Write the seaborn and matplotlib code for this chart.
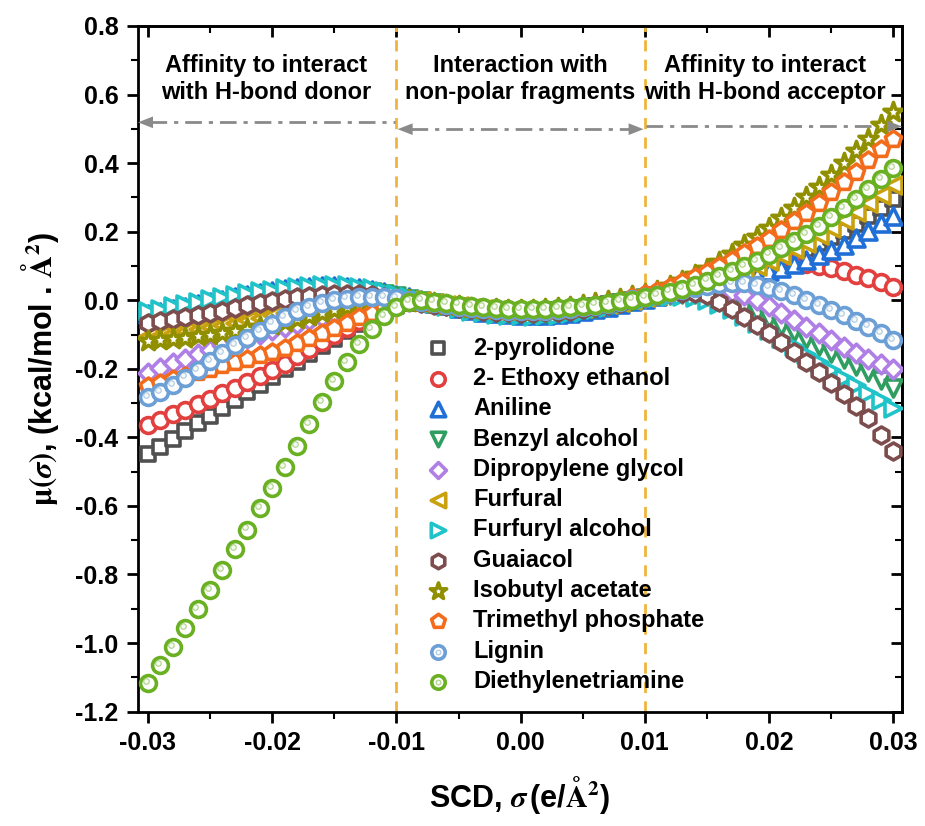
import numpy as np
import pandas as pd
import matplotlib
matplotlib.use("Agg")
import matplotlib.pyplot as plt
import seaborn as sns
from matplotlib.transforms import offset_copy
from matplotlib.ticker import MultipleLocator, FormatStrFormatter
from matplotlib.legend_handler import HandlerTuple

# sigma grid (e/A^2), 61 points from -0.030 to 0.030
sigma = np.round(np.linspace(-0.030, 0.030, 61), 3)

pyrolidone = [
    -0.449, -0.427, -0.404, -0.382, -0.359, -0.337, -0.314, -0.292, -0.269, -0.247,
    -0.224, -0.202, -0.179, -0.157, -0.134, -0.112, -0.090, -0.069, -0.049, -0.031,
    -0.018, -0.009, -0.006, -0.009, -0.013, -0.018, -0.022, -0.026, -0.029, -0.031,
    -0.032, -0.032, -0.031, -0.029, -0.026, -0.022, -0.017, -0.012, -0.006, 0.000,
    0.007, 0.014, 0.022, 0.030, 0.039, 0.048, 0.058, 0.068, 0.079, 0.091,
    0.104, 0.118, 0.133, 0.149, 0.166, 0.184, 0.203, 0.223, 0.245, 0.268, 0.296]
ethoxy_ethanol = [
    -0.364, -0.348, -0.333, -0.319, -0.302, -0.287, -0.271, -0.255, -0.239, -0.222,
    -0.204, -0.185, -0.164, -0.143, -0.121, -0.100, -0.080, -0.061, -0.044, -0.028,
    -0.015, -0.006, -0.004, -0.007, -0.012, -0.017, -0.021, -0.025, -0.028, -0.030,
    -0.031, -0.031, -0.030, -0.028, -0.025, -0.021, -0.016, -0.011, -0.005, 0.003,
    0.012, 0.020, 0.028, 0.037, 0.047, 0.057, 0.067, 0.077, 0.086, 0.094,
    0.101, 0.106, 0.108, 0.106, 0.101, 0.094, 0.085, 0.075, 0.064, 0.052, 0.039]
aniline = [
    -0.040, -0.033, -0.026, -0.019, -0.012, -0.005, 0.002, 0.009, 0.015, 0.021,
    0.027, 0.032, 0.036, 0.039, 0.041, 0.041, 0.039, 0.036, 0.031, 0.024,
    0.016, 0.008, 0.000, -0.008, -0.015, -0.022, -0.028, -0.033, -0.037, -0.040,
    -0.042, -0.043, -0.042, -0.040, -0.037, -0.032, -0.026, -0.019, -0.011, -0.003,
    0.005, 0.013, 0.020, 0.027, 0.034, 0.042, 0.050, 0.058, 0.066, 0.075,
    0.085, 0.095, 0.106, 0.118, 0.131, 0.146, 0.162, 0.181, 0.202, 0.224, 0.245]
benzyl_alcohol = [
    -0.048, -0.041, -0.034, -0.027, -0.020, -0.013, -0.007, -0.001, 0.005, 0.011,
    0.016, 0.021, 0.025, 0.028, 0.030, 0.031, 0.030, 0.028, 0.024, 0.019,
    0.012, 0.005, -0.002, -0.009, -0.016, -0.022, -0.027, -0.031, -0.034, -0.036,
    -0.037, -0.037, -0.036, -0.034, -0.031, -0.027, -0.022, -0.016, -0.009, -0.001,
    0.006, 0.012, 0.016, 0.018, 0.017, 0.012, 0.004, -0.007, -0.021, -0.037,
    -0.055, -0.074, -0.094, -0.114, -0.134, -0.153, -0.172, -0.191, -0.210, -0.232, -0.256]
dipropylene_glycol = [
    -0.212, -0.198, -0.184, -0.170, -0.157, -0.144, -0.132, -0.120, -0.109, -0.098,
    -0.088, -0.078, -0.068, -0.058, -0.048, -0.038, -0.028, -0.019, -0.011, -0.005,
    -0.001, -0.002, -0.005, -0.009, -0.014, -0.018, -0.022, -0.025, -0.027, -0.029,
    -0.030, -0.030, -0.029, -0.027, -0.024, -0.020, -0.015, -0.010, -0.004, 0.003,
    0.010, 0.016, 0.021, 0.025, 0.028, 0.029, 0.029, 0.025, 0.016, 0.000,
    -0.018, -0.037, -0.057, -0.077, -0.097, -0.116, -0.135, -0.153, -0.170, -0.186, -0.200]
furfural = [
    -0.105, -0.100, -0.095, -0.090, -0.084, -0.078, -0.072, -0.065, -0.058, -0.051,
    -0.044, -0.037, -0.030, -0.023, -0.016, -0.010, -0.005, 0.000, 0.003, 0.004,
    0.004, 0.001, -0.003, -0.008, -0.013, -0.018, -0.022, -0.026, -0.029, -0.031,
    -0.032, -0.032, -0.031, -0.029, -0.026, -0.022, -0.017, -0.011, -0.005, 0.002,
    0.010, 0.016, 0.023, 0.031, 0.040, 0.050, 0.061, 0.073, 0.086, 0.100,
    0.115, 0.131, 0.149, 0.168, 0.189, 0.211, 0.234, 0.258, 0.283, 0.308, 0.335]
furfuryl_alcohol = [
    -0.032, -0.025, -0.018, -0.011, -0.004, 0.003, 0.009, 0.015, 0.021, 0.026,
    0.031, 0.035, 0.039, 0.042, 0.044, 0.044, 0.043, 0.040, 0.035, 0.028,
    0.019, 0.010, 0.001, -0.008, -0.016, -0.023, -0.030, -0.035, -0.039, -0.042,
    -0.044, -0.045, -0.044, -0.042, -0.038, -0.033, -0.027, -0.020, -0.012, -0.003,
    0.005, 0.010, 0.013, 0.013, 0.008, 0.000, -0.012, -0.027, -0.045, -0.066,
    -0.088, -0.111, -0.134, -0.157, -0.180, -0.203, -0.226, -0.248, -0.270, -0.292, -0.313]
guaiacol = [
    -0.065, -0.060, -0.055, -0.050, -0.044, -0.038, -0.031, -0.023, -0.015, -0.008,
    -0.002, 0.004, 0.009, 0.013, 0.016, 0.018, 0.018, 0.017, 0.014, 0.010,
    0.005, -0.001, -0.007, -0.013, -0.018, -0.023, -0.027, -0.030, -0.033, -0.035,
    -0.036, -0.036, -0.035, -0.033, -0.030, -0.026, -0.021, -0.015, -0.008, 0.000,
    0.008, 0.015, 0.020, 0.022, 0.021, 0.015, -0.004, -0.025, -0.048, -0.072,
    -0.097, -0.123, -0.151, -0.180, -0.210, -0.241, -0.274, -0.308, -0.344, -0.392, -0.441]
isobutyl_acetate = [
    -0.118, -0.115, -0.112, -0.109, -0.105, -0.101, -0.096, -0.091, -0.085, -0.079,
    -0.072, -0.064, -0.056, -0.047, -0.038, -0.029, -0.020, -0.012, -0.005, 0.000,
    0.002, 0.000, -0.004, -0.009, -0.014, -0.018, -0.022, -0.025, -0.027, -0.028,
    -0.029, -0.028, -0.027, -0.024, -0.020, -0.015, -0.009, -0.002, 0.005, 0.011,
    0.017, 0.028, 0.041, 0.056, 0.073, 0.092, 0.112, 0.135, 0.160, 0.185,
    0.210, 0.240, 0.270, 0.300, 0.330, 0.365, 0.400, 0.435, 0.470, 0.510, 0.550]
trimethyl_phosphate = [
    -0.250, -0.240, -0.230, -0.220, -0.210, -0.200, -0.190, -0.180, -0.170, -0.160,
    -0.150, -0.138, -0.125, -0.110, -0.095, -0.080, -0.065, -0.050, -0.036, -0.022,
    -0.010, -0.003, -0.005, -0.009, -0.014, -0.018, -0.022, -0.025, -0.028, -0.030,
    -0.031, -0.031, -0.030, -0.028, -0.025, -0.020, -0.015, -0.008, -0.001, 0.008,
    0.018, 0.028, 0.040, 0.053, 0.067, 0.083, 0.100, 0.118, 0.138, 0.158,
    0.180, 0.205, 0.230, 0.255, 0.285, 0.315, 0.345, 0.375, 0.410, 0.440, 0.471]
lignin = [
    -0.282, -0.267, -0.248, -0.226, -0.203, -0.178, -0.155, -0.132, -0.111, -0.089,
    -0.068, -0.049, -0.032, -0.019, -0.008, 0.000, 0.005, 0.009, 0.010, 0.009,
    0.006, 0.001, -0.004, -0.009, -0.014, -0.019, -0.023, -0.026, -0.028, -0.030,
    -0.031, -0.031, -0.030, -0.028, -0.025, -0.021, -0.016, -0.010, -0.004, 0.003,
    0.010, 0.016, 0.022, 0.029, 0.035, 0.041, 0.046, 0.049, 0.049, 0.045,
    0.037, 0.027, 0.015, 0.001, -0.014, -0.029, -0.044, -0.060, -0.077, -0.095, -0.117]
diethylenetriamine = [
    -1.118, -1.064, -1.011, -0.957, -0.902, -0.845, -0.787, -0.727, -0.669, -0.607,
    -0.547, -0.486, -0.426, -0.362, -0.298, -0.237, -0.180, -0.128, -0.084, -0.047,
    -0.019, -0.004, 0.000, -0.004, -0.009, -0.013, -0.017, -0.021, -0.024, -0.026,
    -0.027, -0.027, -0.026, -0.024, -0.021, -0.017, -0.013, -0.008, -0.003, 0.002,
    0.008, 0.016, 0.025, 0.034, 0.045, 0.057, 0.070, 0.084, 0.099, 0.115,
    0.133, 0.152, 0.172, 0.194, 0.217, 0.242, 0.268, 0.295, 0.324, 0.354, 0.385]

names = ["2-pyrolidone", "2- Ethoxy ethanol", "Aniline", "Benzyl alcohol",
         "Dipropylene glycol", "Furfural", "Furfuryl alcohol", "Guaiacol",
         "Isobutyl acetate", "Trimethyl phosphate", "Lignin", "Diethylenetriamine"]
series = [pyrolidone, ethoxy_ethanol, aniline, benzyl_alcohol, dipropylene_glycol,
          furfural, furfuryl_alcohol, guaiacol, isobutyl_acetate,
          trimethyl_phosphate, lignin, diethylenetriamine]
colors = ["#505050", "#e2403f", "#1f6fd6", "#2f9e60", "#b07fe6", "#c9a00e",
          "#1fc3c8", "#7d4c4c", "#8f8f00", "#f26c1c", "#6c9fd6", "#6ab023"]
markers = ["s", "o", "^", "v", "D", "<", ">", "h", "*", "p", "o", "o"]
sizes = [105, 130, 150, 150, 90, 150, 150, 150, 210, 150, 130, 130]
sphere = [False] * 10 + [True, True]

sns.set_theme(style="white")
plt.rcParams["font.family"] = ["Liberation Sans", "DejaVu Sans"]
plt.rcParams["font.weight"] = "bold"
plt.rcParams["mathtext.fontset"] = "stix"
for key in ("text.color", "axes.labelcolor", "xtick.color", "ytick.color"):
    plt.rcParams[key] = "black"

fig = plt.figure(figsize=(9.25, 8.26), dpi=100)
ax = fig.add_axes([138 / 925, 114.4 / 826, 764 / 925, 685.6 / 826])

handles = []
for name, vals, c, m, s, sph in zip(names, series, colors, markers, sizes, sphere):
    df = pd.DataFrame({"sigma": sigma, "mu": vals})
    sns.scatterplot(data=df, x="sigma", y="mu", marker=m, s=s, color="white",
                    edgecolor=c, linewidth=2.6, ax=ax, zorder=3, legend=False)
    h_main = ax.collections[-1]
    if sph:
        # small glossy highlight inside the sphere-style circles
        tr = offset_copy(ax.transData, fig=fig, x=-1.6, y=1.6, units="points")
        ax.scatter(df["sigma"], df["mu"], s=16, facecolor="#eef3ea",
                   edgecolor=c, linewidth=0.8, alpha=0.55, transform=tr, zorder=3)
        h_dot = ax.scatter([], [], s=16, facecolor="#eef3ea", edgecolor=c,
                           linewidth=0.8, alpha=0.55)
        handles.append((h_main, h_dot))
    else:
        handles.append(h_main)

xmin, xmax = -0.0308, 0.0307
ax.set_xlim(xmin, xmax)
ax.set_ylim(-1.2, 0.8)

# region boundaries
for xv in (-0.01, 0.01):
    ax.axvline(xv, color="#f0b43c", lw=2, ls=(0, (4, 3)), zorder=1)

# region arrows
gray = "#8a8a8a"
arrow_kw = dict(arrowstyle="-|>,head_length=0.9,head_width=0.35", color=gray, lw=0,
                shrinkA=0, shrinkB=0)
dashdot = (0, (6, 2.5, 1.5, 2.5))
yl, ym, yr = 0.519, 0.499, 0.507
ax.plot([xmin + 0.0010, -0.0101], [yl, yl], color=gray, lw=2, ls=dashdot, zorder=2)
ax.annotate("", xy=(xmin, yl), xytext=(xmin + 0.0012, yl), arrowprops=arrow_kw)
ax.plot([-0.0088, 0.0088], [ym, ym], color=gray, lw=2, ls=dashdot, zorder=2)
ax.annotate("", xy=(-0.0099, ym), xytext=(-0.0087, ym), arrowprops=arrow_kw)
ax.annotate("", xy=(0.0099, ym), xytext=(0.0087, ym), arrowprops=arrow_kw)
ax.plot([0.0101, xmax - 0.0010], [yr, yr], color=gray, lw=2, ls=dashdot, zorder=2)
ax.annotate("", xy=(xmax, yr), xytext=(xmax - 0.0012, yr), arrowprops=arrow_kw)

txt_kw = dict(ha="center", va="center", fontsize=17, fontweight="bold",
              linespacing=1.25, color="black", zorder=4)
ax.text(-0.0205, 0.646, "Affinity to interact\nwith H-bond donor", **txt_kw)
ax.text(0.0000, 0.646, "Interaction with\nnon-polar fragments", **txt_kw)
ax.text(0.0197, 0.646, "Affinity to interact\nwith H-bond acceptor", **txt_kw)

# axes styling
for sp in ax.spines.values():
    sp.set_color("black")
    sp.set_linewidth(2)
ax.xaxis.set_major_locator(MultipleLocator(0.01))
ax.xaxis.set_minor_locator(MultipleLocator(0.005))
ax.yaxis.set_major_locator(MultipleLocator(0.2))
ax.yaxis.set_minor_locator(MultipleLocator(0.1))
ax.xaxis.set_major_formatter(FormatStrFormatter("%.2f"))
ax.yaxis.set_major_formatter(FormatStrFormatter("%.1f"))
ax.tick_params(which="major", direction="out", length=8, width=2, labelsize=18,
               colors="black", bottom=True, left=True, top=False, right=False, pad=6)
ax.tick_params(which="minor", direction="out", length=5, width=1.5, colors="black",
               bottom=True, left=True, top=False, right=False)
for lab in ax.get_xticklabels() + ax.get_yticklabels():
    lab.set_fontweight("bold")

# mirrored inward ticks on top and right
sec_x = ax.secondary_xaxis("top")
sec_x.xaxis.set_major_locator(MultipleLocator(0.01))
sec_x.xaxis.set_minor_locator(MultipleLocator(0.005))
sec_x.tick_params(which="major", direction="in", length=8, width=2, labeltop=False,
                  colors="black")
sec_x.tick_params(which="minor", direction="in", length=5, width=1.5, colors="black")
sec_x.spines["top"].set_linewidth(2)
sec_y = ax.secondary_yaxis("right")
sec_y.yaxis.set_major_locator(MultipleLocator(0.2))
sec_y.yaxis.set_minor_locator(MultipleLocator(0.1))
sec_y.tick_params(which="major", direction="in", length=8, width=2, labelright=False,
                  colors="black")
sec_y.tick_params(which="minor", direction="in", length=5, width=1.5, colors="black")
sec_y.spines["right"].set_linewidth(2)

ax.set_xlabel(r"SCD, $\sigma\,$(e/$\mathrm{\AA}^{2}$)", fontsize=22,
              fontweight="bold", labelpad=14)
ax.set_ylabel(r"$\mathrm{\mu}(\sigma)$, (kcal/mol . $\mathrm{\AA}^{2}$)", fontsize=22,
              fontweight="bold", labelpad=10)

leg = ax.legend(handles, names, loc="upper left", bbox_to_anchor=(0.377, 0.547),
                frameon=False, fontsize=17, handlelength=1.0, handletextpad=1.0,
                labelspacing=0.31, borderpad=0, borderaxespad=0, markerscale=0.85,
                handler_map={tuple: HandlerTuple(ndivide=1, pad=0)})
for t in leg.get_texts():
    t.set_fontweight("bold")
    t.set_color("black")

fig.savefig("out.png", dpi=100)
